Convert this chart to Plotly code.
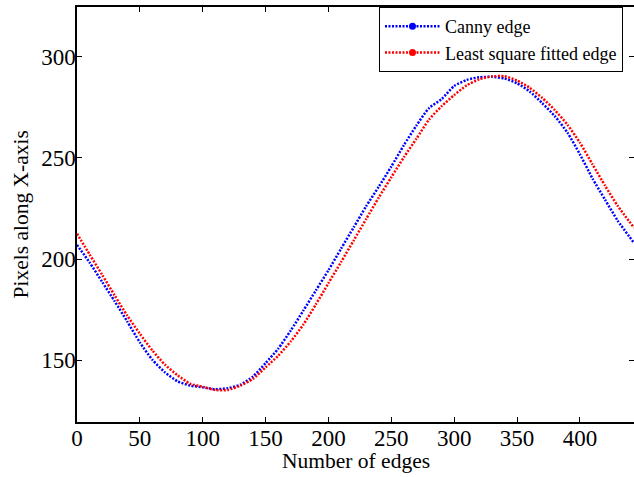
import plotly.graph_objects as go

# Data
edge_index = [0, 10, 20, 30, 40, 50, 60, 70, 80, 90, 100, 110, 120, 130, 140, 150,
              160, 170, 180, 190, 200, 210, 220, 230, 240, 250, 260, 270, 280, 290,
              300, 310, 320, 330, 340, 350, 360, 370, 380, 390, 400, 410, 420, 430,
              443]

canny_edge = [207.0, 198.3, 188.7, 179.1, 169.1, 158.8, 150.2, 144.0, 139.6, 137.5,
              136.6, 135.7, 136.2, 137.9, 142.0, 148.6, 155.7, 164.7, 174.5, 184.5,
              194.5, 205.1, 215.6, 226.1, 235.7, 245.7, 256.3, 266.0, 274.6, 279.0,
              285.5, 288.5, 289.8, 290.0, 289.2, 286.8, 282.8, 277.0, 270.6, 262.5,
              251.7, 239.8, 229.3, 219.0, 208.0]

fitted_edge = [212.5, 202.3, 192.2, 182.0, 172.0, 163.1, 154.8, 147.8, 142.6, 138.4,
               136.9, 135.3, 135.3, 137.5, 140.8, 146.5, 152.2, 159.3, 167.6, 177.6,
               188.1, 198.5, 209.1, 219.8, 230.4, 240.4, 250.3, 259.5, 268.9, 275.5,
               281.0, 285.8, 288.8, 290.2, 290.3, 288.2, 284.6, 279.6, 273.6, 266.4,
               257.5, 246.8, 236.2, 226.3, 215.5]

series_names = ["Canny edge", "Least square fitted edge"]
series_colors = ["#0000ff", "#ff0000"]

x_ticks = [0, 50, 100, 150, 200, 250, 300, 350, 400]
y_ticks = [150, 200, 250, 300]

FONT = "Liberation Serif, Times New Roman, serif"
DASH = "2px,1.5px"
LW = 2.5

fig = go.Figure()
for name, ys, col in zip(series_names, [canny_edge, fitted_edge], series_colors):
    fig.add_trace(go.Scatter(
        x=edge_index, y=ys, mode="lines", name=name, showlegend=False,
        line=dict(color=col, width=LW, dash=DASH, shape="spline", smoothing=0.6),
        hoverinfo="skip", cliponaxis=True))
# legend entries (line + dot marker, as in the reference)
for name, col in zip(series_names, series_colors):
    fig.add_trace(go.Scatter(
        x=[None], y=[None], mode="lines+markers", name=name,
        line=dict(color=col, width=LW, dash=DASH),
        marker=dict(color=col, size=7, symbol="circle")))

axis_common = dict(
    showgrid=False, zeroline=False, showline=True, linecolor="black", linewidth=1.5,
    mirror="allticks", ticks="inside", ticklen=5, tickwidth=1, tickcolor="black",
    automargin=False, ticklabelstandoff=-5,
    tickfont=dict(family=FONT, size=23, color="black"))

fig.update_xaxes(range=[0, 443], tickvals=x_ticks, **axis_common)
fig.update_yaxes(range=[119.5, 324.5], tickvals=y_ticks, **axis_common)

fig.add_annotation(text="Number of edges", xref="paper", yref="paper",
                   x=0.5, y=-0.094, xanchor="center", yanchor="middle", showarrow=False,
                   font=dict(family=FONT, size=21.5, color="black"))
fig.add_annotation(text="Pixels along X-axis", xref="paper", yref="paper",
                   x=-0.1023, y=0.5, xanchor="center", yanchor="middle", showarrow=False,
                   textangle=-90, font=dict(family=FONT, size=21.5, color="black"))

fig.update_layout(
    width=634, height=477,
    margin=dict(l=77, r=0, t=7, b=55, autoexpand=False),
    paper_bgcolor="white", plot_bgcolor="white",
    font=dict(family=FONT, size=18, color="black"),
    showlegend=True,
    legend=dict(x=(379 - 77) / 557, y=1, xanchor="left", yanchor="top",
                bordercolor="black", borderwidth=1, bgcolor="white",
                font=dict(family=FONT, size=18, color="black"),
                tracegroupgap=0, itemwidth=55),
)

fig.write_html("out.html", config={"displayModeBar": False},
               post_script="document.body.style.margin='0';document.body.style.overflow='hidden';")
